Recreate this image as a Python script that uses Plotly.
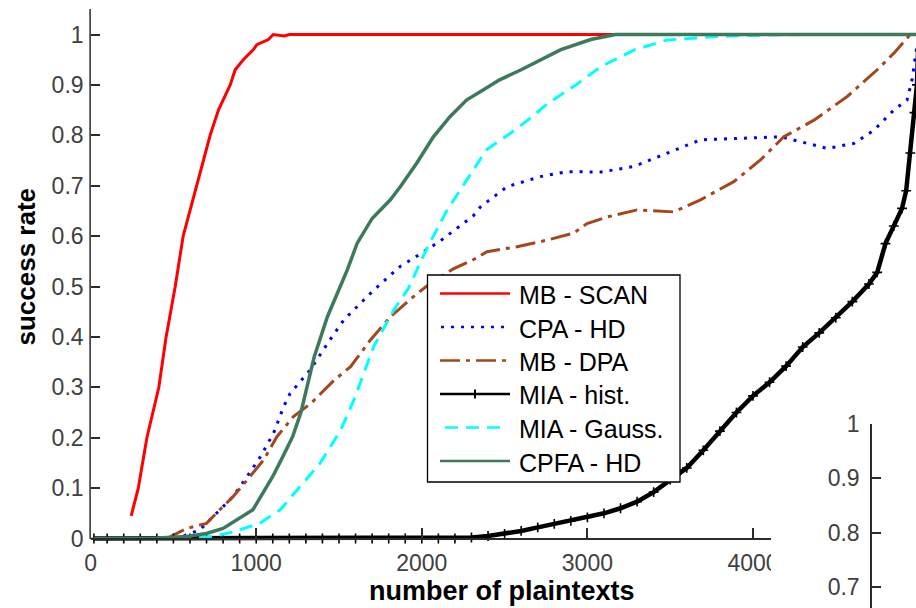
import plotly.graph_objects as go

W, H = 916, 608

# ---------------- data ----------------
series_names = ["MB - SCAN", "CPA - HD", "MB - DPA", "MIA - hist.", "MIA - Gauss.", "CPFA - HD"]
series_colors = ["#ff0000", "#0000ff", "#a5461c", "#000000", "#00ffff", "#3d7a5c"]

mb_scan_x = [245, 288, 340, 390, 412, 456, 511, 559, 642, 722, 772, 843, 873, 922, 983, 1004, 1073, 1103, 1170, 1200, 5000]
mb_scan_y = [0.045, 0.1, 0.2, 0.27, 0.3, 0.4, 0.5, 0.6, 0.7, 0.8, 0.85, 0.9, 0.93, 0.95, 0.97, 0.98, 0.99, 1.0, 0.997, 1.0, 1.0]

cpa_hd_x = [20, 480, 560, 660, 760, 860, 945, 1025, 1105, 1165, 1205, 1325, 1445, 1530, 1710, 1870, 1950, 2110, 2310, 2354, 2515, 2716, 2877, 3080, 3280, 3480, 3683, 3924, 4166, 4290, 4450, 4610, 4730, 4850, 4930, 4960, 4980, 5000]
cpa_hd_y = [0, 0, 0.005, 0.017, 0.05, 0.083, 0.123, 0.162, 0.209, 0.261, 0.288, 0.334, 0.394, 0.434, 0.493, 0.54, 0.556, 0.59, 0.64, 0.658, 0.698, 0.718, 0.728, 0.727, 0.738, 0.764, 0.791, 0.794, 0.797, 0.787, 0.774, 0.784, 0.81, 0.85, 0.87, 0.91, 0.956, 1.0]

mb_dpa_x = [20, 460, 580, 700, 780, 860, 945, 1045, 1125, 1225, 1330, 1470, 1570, 1690, 1810, 1950, 2050, 2190, 2310, 2394, 2575, 2756, 2917, 2998, 3119, 3300, 3521, 3683, 3884, 4045, 4186, 4368, 4569, 4750, 4851, 4921, 4950, 5000]
mb_dpa_y = [0, 0, 0.02, 0.03, 0.057, 0.083, 0.116, 0.156, 0.202, 0.242, 0.268, 0.314, 0.341, 0.394, 0.44, 0.48, 0.506, 0.535, 0.553, 0.569, 0.579, 0.592, 0.606, 0.625, 0.638, 0.652, 0.648, 0.672, 0.708, 0.751, 0.797, 0.83, 0.877, 0.93, 0.963, 0.989, 1.0, 1.0]

mia_hist_x = [20, 100, 200, 300, 400, 500, 600, 700, 800, 900, 1000, 1100, 1200, 1300, 1400, 1500, 1600, 1700, 1800, 1900, 2000, 2100, 2200,
              2300, 2400, 2500, 2600, 2700, 2800, 2900, 3000, 3100, 3200, 3300, 3400, 3500, 3600, 3700, 3800, 3900, 4000,
              4100, 4200, 4300, 4400, 4500, 4600, 4700, 4750, 4800, 4850, 4900, 4925, 4950, 4975, 4990, 5000]
mia_hist_y = [0, 0, 0, 0, 0, 0, 0, 0, 0, 0, 0, 0, 0, 0, 0, 0, 0, 0, 0, 0, 0, 0, 0,
              0.002, 0.005, 0.009, 0.015, 0.022, 0.029, 0.035, 0.042, 0.05, 0.06, 0.073, 0.092, 0.117, 0.14, 0.175, 0.213, 0.25, 0.283,
              0.31, 0.342, 0.38, 0.408, 0.438, 0.47, 0.505, 0.528, 0.585, 0.62, 0.655, 0.69, 0.765, 0.845, 0.9, 1.0]

mia_gauss_x = [20, 600, 740, 860, 1020, 1145, 1265, 1385, 1510, 1590, 1710, 1830, 1920, 2030, 2150, 2270, 2390, 2535, 2640, 2760, 2930, 3080, 3280, 3480, 3780, 4090, 4300, 5000]
mia_gauss_y = [0, 0, 0.004, 0.013, 0.03, 0.057, 0.103, 0.149, 0.215, 0.275, 0.381, 0.453, 0.497, 0.575, 0.65, 0.711, 0.771, 0.804, 0.83, 0.863, 0.9, 0.936, 0.969, 0.989, 0.996, 0.999, 1.0, 1.0]

cpfa_hd_x = [20, 400, 580, 700, 800, 860, 980, 1040, 1100, 1160, 1220, 1270, 1350, 1430, 1490, 1550, 1610, 1700, 1810, 1870, 1970, 2070, 2170, 2270, 2370, 2470, 2600, 2720, 2840, 3020, 3170, 5000]
cpfa_hd_y = [0, 0.001, 0.004, 0.01, 0.02, 0.033, 0.057, 0.09, 0.123, 0.162, 0.202, 0.25, 0.36, 0.44, 0.486, 0.533, 0.586, 0.635, 0.672, 0.698, 0.745, 0.797, 0.837, 0.87, 0.89, 0.91, 0.93, 0.95, 0.97, 0.99, 1.0, 1.0]

x_tick_vals = [0, 1000, 2000, 3000, 4000]
x_tick_text = ["0", "1000", "2000", "3000", "4000"]
y_tick_vals = [0, 0.1, 0.2, 0.3, 0.4, 0.5, 0.6, 0.7, 0.8, 0.9, 1.0]
y_tick_text = ["0", "0.1", "0.2", "0.3", "0.4", "0.5", "0.6", "0.7", "0.8", "0.9", "1"]
inset_tick_vals = [0.7, 0.8, 0.9, 1.0]
inset_tick_text = ["0.7", "0.8", "0.9", "1"]

x_title = "number of plaintexts"
y_title = "success rate"

# ---------------- styling ----------------
FONT = "Liberation Sans, Arial, sans-serif"
AX = "#2b2b2b"
TICKC = "#404040"

def px(x):
    return x / W

def py(y):
    return 1 - y / H

# main axes geometry (pixels)
X0_PX, X_RIGHT_PX = 90.6, 916.0
PX_PER_1000 = 165.6
Y0_PX, YTOP_PX = 538.5, 9.0
PX_PER_UNIT = 504.0
PLOT_BOTTOM_PX = 544.0

x_max = (X_RIGHT_PX - X0_PX) / PX_PER_1000 * 1000
y_top = (Y0_PX - YTOP_PX) / PX_PER_UNIT
y_bot = -(PLOT_BOTTOM_PX - Y0_PX) / PX_PER_UNIT

fig = go.Figure()

styles = [
    dict(width=3, dash="solid"),
    dict(width=3, dash="3px,7px"),
    dict(width=3, dash="20px,6px,4px,6px"),
    dict(width=4.5, dash="solid"),
    dict(width=3, dash="13px,8px"),
    dict(width=3.5, dash="solid"),
]
data = [
    (mb_scan_x, mb_scan_y),
    (cpa_hd_x, cpa_hd_y),
    (mb_dpa_x, mb_dpa_y),
    (mia_hist_x, mia_hist_y),
    (mia_gauss_x, mia_gauss_y),
    (cpfa_hd_x, cpfa_hd_y),
]
for i, ((xs, ys), name) in enumerate(zip(data, series_names)):
    kw = {}
    mode = "lines"
    if name == "MIA - hist.":
        mode = "lines+markers"
        kw["marker"] = dict(symbol="cross-thin", size=7, line=dict(width=1.6, color="#000000"), color="#000000")
    fig.add_trace(go.Scatter(
        x=xs, y=ys, name=name, mode=mode,
        line=dict(color=series_colors[i], width=styles[i]["width"], dash=styles[i]["dash"]),
        showlegend=False, hoverinfo="skip", **kw))

# inset subplot (second figure partially visible at bottom-right)
fig.add_trace(go.Scatter(x=[], y=[], xaxis="x2", yaxis="y2", showlegend=False, hoverinfo="skip"))

Y2_TOP_PX = 424.0
PX_PER_UNIT2 = 544.0
y2_bot = 1 - (H - Y2_TOP_PX) / PX_PER_UNIT2

shapes = []
# main y-axis line (value 0 .. top)
shapes.append(dict(type="line", xref="paper", yref="paper",
                   x0=px(X0_PX - 0.5), x1=px(X0_PX - 0.5), y0=py(Y0_PX + 0.5), y1=py(YTOP_PX),
                   line=dict(color=AX, width=1.5), layer="above"))

# legend (drawn with shapes + text)
LX0, LY0, LX1, LY1 = 427.5, 275.0, 680.0, 482.0
shapes.append(dict(type="rect", xref="paper", yref="paper",
                   x0=px(LX0), x1=px(LX1), y0=py(LY1), y1=py(LY0),
                   line=dict(color="#000000", width=1.3), fillcolor="#ffffff", layer="above"))
row_y = [293.5, 327.0, 360.5, 394.0, 427.5, 461.0]
leg_dash = ["solid", "3px,7px", "20px,6px,4px,6px", "solid", "13px,8px", "solid"]
leg_x = [(440, 510), (441, 508), (440, 510), (440, 510), (445, 507), (440, 510)]
annotations = []
for i, name in enumerate(series_names):
    shapes.append(dict(type="line", xref="paper", yref="paper",
                       x0=px(leg_x[i][0]), x1=px(leg_x[i][1]), y0=py(row_y[i]), y1=py(row_y[i]),
                       line=dict(color=series_colors[i], width=2.5, dash=leg_dash[i]), layer="above"))
    annotations.append(dict(text=name, xref="paper", yref="paper", x=px(516.5), y=py(row_y[i] + 1.5),
                            xanchor="left", yanchor="middle", showarrow=False,
                            font=dict(family=FONT, size=25, color="#000000")))
# '+' marker in the legend for MIA - hist.
shapes.append(dict(type="line", xref="paper", yref="paper",
                   x0=px(475), x1=px(475), y0=py(row_y[3] - 4.5), y1=py(row_y[3] + 4.5),
                   line=dict(color="#000000", width=2), layer="above"))

annotations.append(dict(text="<b>" + x_title + "</b>", xref="paper", yref="paper", x=px(502), y=py(591),
                        xanchor="center", yanchor="middle", showarrow=False,
                        font=dict(family=FONT, size=27, color="#000000")))
annotations.append(dict(text="<b>" + y_title + "</b>", xref="paper", yref="paper", x=px(25), y=py(266.5),
                        xanchor="center", yanchor="middle", showarrow=False, textangle=-90,
                        font=dict(family=FONT, size=26, color="#000000")))

axis_common = dict(showgrid=False, zeroline=False, ticks="inside", tickcolor=AX, tickwidth=1.5,
                   automargin=False, tickfont=dict(family=FONT, size=23, color=TICKC))

fig.update_layout(
    template="none",
    width=W, height=H, autosize=False,
    margin=dict(l=0, r=0, t=0, b=0, pad=0, autoexpand=False),
    paper_bgcolor="#ffffff", plot_bgcolor="#ffffff",
    showlegend=False,
    xaxis=dict(domain=[px(X0_PX), 1.0], range=[0, x_max], anchor="free", position=py(Y0_PX),
               tickvals=x_tick_vals, ticktext=x_tick_text, ticklen=10,
               showline=True, linecolor=AX, linewidth=1.5, ticklabelstandoff=4, **axis_common),
    yaxis=dict(domain=[py(PLOT_BOTTOM_PX), py(YTOP_PX)], range=[y_bot, y_top], anchor="x",
               tickvals=y_tick_vals, ticktext=y_tick_text, ticklen=9,
               showline=False, ticklabelstandoff=6, **axis_common),
    xaxis2=dict(domain=[px(771), 1.0], range=[0, 1], anchor="y2", visible=False, automargin=False),
    yaxis2=dict(domain=[0, py(Y2_TOP_PX)], range=[y2_bot, 1.0], anchor="free", position=px(871),
                side="left", tickvals=inset_tick_vals, ticktext=inset_tick_text, ticklen=9,
                showline=True, linecolor=AX, linewidth=1.5, ticklabelstandoff=6, **axis_common),
    shapes=shapes,
    annotations=annotations,
)

fig.write_html("out.html")
